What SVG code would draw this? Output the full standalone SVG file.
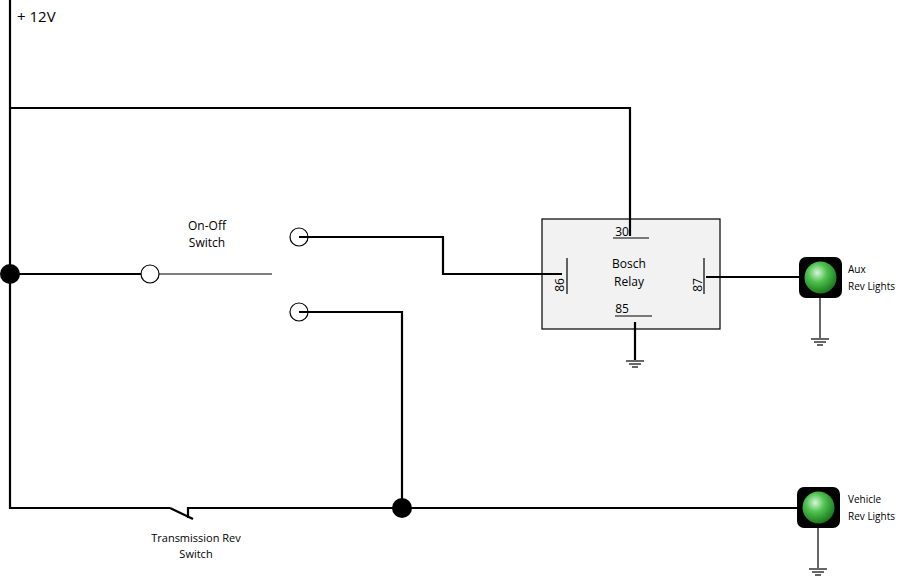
<svg xmlns="http://www.w3.org/2000/svg" width="903" height="577" viewBox="0 0 903 577">
<defs>
<style>
.w{stroke:#000;stroke-width:2.2;fill:none}
.t{stroke:#000;stroke-width:1.2;fill:none}
text{font-family:"Open Sans","Liberation Sans",sans-serif;fill:#000}
</style>
<radialGradient id="g" cx="0.4" cy="0.35" r="0.65">
<stop offset="0" stop-color="#d8f5d8"/><stop offset="0.45" stop-color="#4fc24f"/><stop offset="1" stop-color="#1c7a1c"/>
</radialGradient>
<g id="gnd"><line class="t" x1="-9" y1="0" x2="9" y2="0"/><line class="t" x1="-6" y1="3" x2="6" y2="3"/><line class="t" x1="-3" y1="6" x2="3" y2="6"/></g>
</defs>
<rect width="903" height="577" fill="#fff"/>
<g id="relay">
<rect x="542" y="219" width="178" height="110" fill="#f2f2f2" stroke="#000" stroke-width="1.2"/>
<text x="622" y="236" font-size="12" text-anchor="middle">30</text>
<line class="t" x1="613" y1="238" x2="649" y2="238"/>
<text x="629" y="268" font-size="12" text-anchor="middle">Bosch</text>
<text x="629" y="286" font-size="12" text-anchor="middle">Relay</text>
<line class="t" x1="567" y1="258" x2="567" y2="294"/>
<text transform="translate(564,285) rotate(-90)" font-size="12" text-anchor="middle">86</text>
<line class="t" x1="704" y1="258" x2="704" y2="294"/>
<text transform="translate(702,285) rotate(-90)" font-size="12" text-anchor="middle">87</text>
<text x="622" y="313" font-size="12" text-anchor="middle">85</text>
<line class="t" x1="615" y1="316" x2="652" y2="316"/>
<use href="#gnd" x="635" y="361"/>
</g>
<g id="connectors">
<polyline class="w" points="10,0 10,508 170,508"/>
<polyline class="w" points="10,108 630,108 630,236"/>
<line class="w" x1="10" y1="274" x2="141" y2="274"/>
<line class="t" x1="159" y1="274" x2="272" y2="274"/>
<polyline class="w" points="299,237 443,237 443,274 562,274"/>
<polyline class="w" points="299,312 402,312 402,508"/>
<line class="w" x1="170" y1="508" x2="193" y2="519"/>
<polyline class="w" points="188,518 188,508 797,508"/>
<line class="w" x1="706" y1="277" x2="800" y2="277"/>
<line class="w" x1="635" y1="322" x2="635" y2="360"/>
<line class="t" x1="820" y1="298" x2="820" y2="338"/>
<line class="t" x1="818" y1="528" x2="818" y2="568"/>
</g>
<g id="plus12v"><text x="17" y="22" font-size="15">+ 12V</text></g>
<g id="junction1"><circle cx="10" cy="274" r="10" fill="#000"/></g>
<g id="junction2"><circle cx="402" cy="508" r="10" fill="#000"/></g>
<g id="onoff">
<circle cx="150" cy="274" r="9" fill="#fff" stroke="#000" stroke-width="1.2"/>
<circle cx="299" cy="237" r="9" fill="none" stroke="#000" stroke-width="1.2"/>
<circle cx="299" cy="312" r="9" fill="none" stroke="#000" stroke-width="1.2"/>
<text x="207" y="230" font-size="12" text-anchor="middle">On-Off</text>
<text x="207" y="247" font-size="12" text-anchor="middle">Switch</text>
</g>
<g id="transSwitch">
<text x="196" y="542" font-size="11" text-anchor="middle">Transmission Rev</text>
<text x="196" y="558" font-size="11" text-anchor="middle">Switch</text>
</g>
<g id="auxLight">
<rect x="799" y="257" width="43" height="41" rx="7" fill="#000"/>
<circle cx="820.5" cy="277.5" r="16" fill="url(#g)"/>
<use href="#gnd" x="820" y="339"/>
<text x="848" y="273" font-size="10">Aux</text>
<text x="848" y="290" font-size="10">Rev Lights</text>
</g>
<g id="vehicleLight">
<rect x="797" y="487" width="43" height="41" rx="7" fill="#000"/>
<circle cx="818.5" cy="507.5" r="16" fill="url(#g)"/>
<use href="#gnd" x="818" y="569"/>
<text x="848" y="503" font-size="10">Vehicle</text>
<text x="848" y="520" font-size="10">Rev Lights</text>
</g>
</svg>
